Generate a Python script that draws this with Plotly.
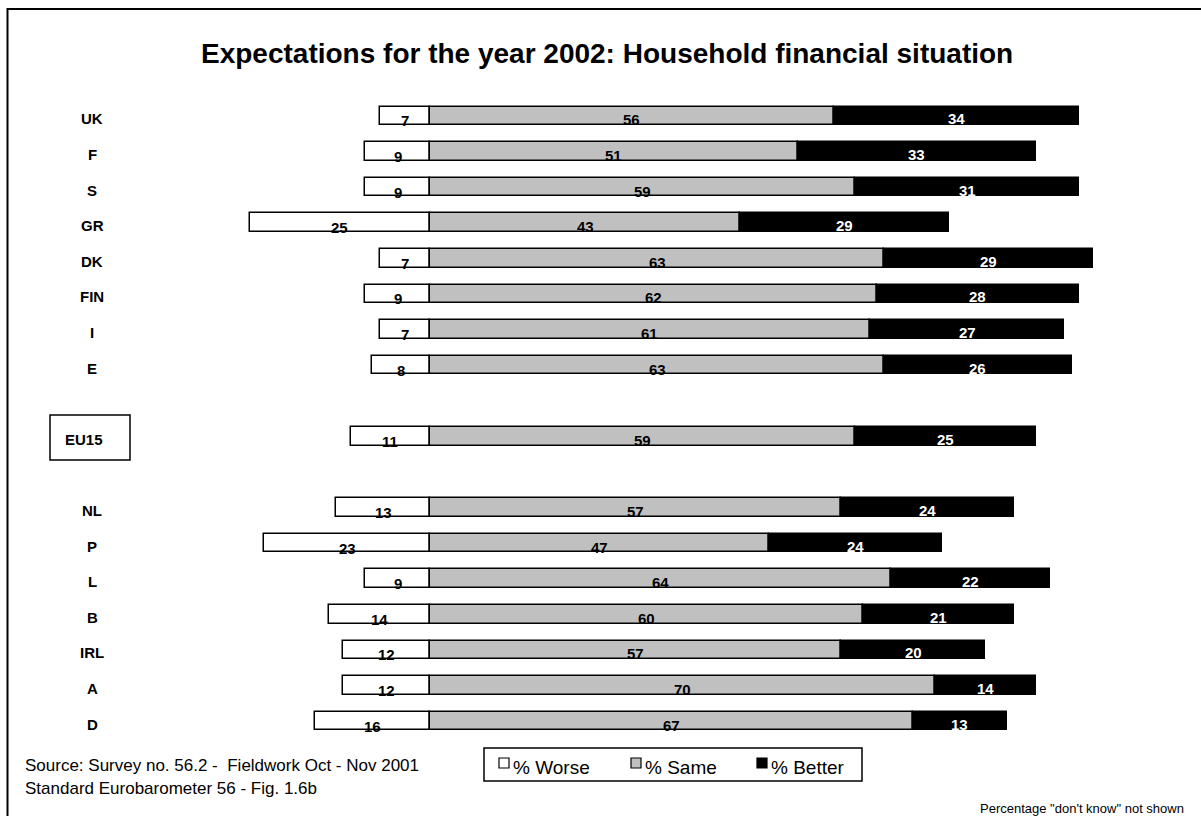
import plotly.graph_objects as go

# Eurobarometer 56: expected change in household finances for 2002 (%)
countries = ["UK", "F", "S", "GR", "DK", "FIN", "I", "E", "EU15",
             "NL", "P", "L", "B", "IRL", "A", "D"]
row_pos = [0, 1, 2, 3, 4, 5, 6, 7, 9, 11, 12, 13, 14, 15, 16, 17]
worse = [7, 9, 9, 25, 7, 9, 7, 8, 11, 13, 23, 9, 14, 12, 12, 16]
same = [56, 51, 59, 43, 63, 62, 61, 63, 59, 57, 47, 64, 60, 57, 70, 67]
better = [34, 33, 31, 29, 29, 28, 27, 26, 25, 24, 24, 22, 21, 20, 14, 13]

series_names = ["% Worse", "% Same", "% Better"]
series_fill = ["#FFFFFF", "#C0C0C0", "#000000"]

W, H = 1201, 816
M_T, M_B = 98, 77
PX_PER_UNIT = 7.21
ZERO_PX = 430
FONT = "Liberation Sans, Arial, sans-serif"


def px(x):
    """page x pixel -> paper coordinate"""
    return x / W


def py(y):
    """page y pixel -> paper coordinate"""
    return (H - M_B - y) / (H - M_T - M_B)


fig = go.Figure()
bar_line = dict(color="#000000", width=1.5)
fig.add_trace(go.Bar(y=row_pos, x=[-v for v in worse], orientation="h",
                     name=series_names[0], width=0.52,
                     marker=dict(color=series_fill[0], line=bar_line)))
fig.add_trace(go.Bar(y=row_pos, x=same, orientation="h",
                     name=series_names[1], width=0.52,
                     marker=dict(color=series_fill[1], line=bar_line)))
fig.add_trace(go.Bar(y=row_pos, x=better, orientation="h",
                     name=series_names[2], width=0.52,
                     marker=dict(color=series_fill[2], line=bar_line)))

annotations = []
value_font = dict(family=FONT, size=15)
for pos, w, s, b in zip(row_pos, worse, same, better):
    annotations.append(dict(x=-w / 2, y=pos, xref="x", yref="y", text=f"<b>{w}</b>",
                            showarrow=False, yshift=-5,
                            font=dict(value_font, color="#000000")))
    annotations.append(dict(x=s / 2, y=pos, xref="x", yref="y", text=f"<b>{s}</b>",
                            showarrow=False, yshift=-4,
                            font=dict(value_font, color="#000000")))
    annotations.append(dict(x=s + b / 2, y=pos, xref="x", yref="y", text=f"<b>{b}</b>",
                            showarrow=False, yshift=-3,
                            font=dict(value_font, color="#FFFFFF")))

# country names down the left side
for pos, name in zip(row_pos, countries):
    annotations.append(dict(x=px(84 if name == "EU15" else 92), y=pos, xref="paper", yref="y",
                            text=f"<b>{name}</b>", showarrow=False, yshift=-3,
                            xanchor="center", font=dict(family=FONT, size=15, color="#000000")))

# title
annotations.append(dict(x=px(607), y=py(54), xref="paper", yref="paper",
                        text="<b>Expectations for the year 2002: Household financial situation</b>",
                        showarrow=False, xanchor="center", yanchor="middle",
                        font=dict(family=FONT, size=28, color="#000000")))

# source notes
annotations.append(dict(x=px(23), y=py(765), xref="paper", yref="paper",
                        text="Source: Survey no. 56.2 -  Fieldwork Oct - Nov 2001",
                        showarrow=False, xanchor="left", yanchor="middle",
                        font=dict(family=FONT, size=17, color="#000000")))
annotations.append(dict(x=px(23), y=py(788), xref="paper", yref="paper",
                        text="Standard Eurobarometer 56 - Fig. 1.6b",
                        showarrow=False, xanchor="left", yanchor="middle",
                        font=dict(family=FONT, size=17, color="#000000")))
annotations.append(dict(x=px(1186), y=py(808), xref="paper", yref="paper",
                        text="Percentage \"don't know\" not shown",
                        showarrow=False, xanchor="right", yanchor="middle",
                        font=dict(family=FONT, size=13, color="#000000")))

shapes = []
# outer frame
shapes.append(dict(type="rect", xref="paper", yref="paper",
                   x0=px(7.5), x1=px(W + 20), y0=py(9), y1=py(H + 20),
                   line=dict(color="#000000", width=2), fillcolor="rgba(0,0,0,0)",
                   layer="above"))
# frame around the EU15 label
shapes.append(dict(type="rect", xref="paper", yref="paper",
                   x0=px(50), x1=px(130), y0=py(415), y1=py(460),
                   line=dict(color="#000000", width=1.5), fillcolor="rgba(0,0,0,0)"))

# legend box with swatches
shapes.append(dict(type="rect", xref="paper", yref="paper",
                   x0=px(484), x1=px(862), y0=py(748), y1=py(781),
                   line=dict(color="#000000", width=1.5), fillcolor="#FFFFFF"))
legend_icon_x = [499, 631, 757]
legend_text_x = [511, 643, 769]
for name, fill, ix, tx in zip(series_names, series_fill, legend_icon_x, legend_text_x):
    shapes.append(dict(type="rect", xref="paper", yref="paper",
                       x0=px(ix), x1=px(ix + 10), y0=py(758), y1=py(768),
                       line=dict(color="#000000", width=1.2), fillcolor=fill))
    annotations.append(dict(x=px(tx), y=py(767), xref="paper", yref="paper",
                            text=name, showarrow=False, xanchor="left", yanchor="middle",
                            font=dict(family=FONT, size=19, color="#000000")))

fig.update_layout(
    width=W, height=H,
    margin=dict(l=0, r=0, t=M_T, b=M_B, pad=0),
    barmode="relative",
    bargap=0,
    paper_bgcolor="#FFFFFF",
    plot_bgcolor="#FFFFFF",
    showlegend=False,
    xaxis=dict(range=[-ZERO_PX / PX_PER_UNIT, (W - ZERO_PX) / PX_PER_UNIT],
               visible=False, fixedrange=True),
    yaxis=dict(range=[17.5, -0.5], visible=False, fixedrange=True),
    annotations=annotations,
    shapes=shapes,
    font=dict(family=FONT),
)

fig.write_html("out.html")
